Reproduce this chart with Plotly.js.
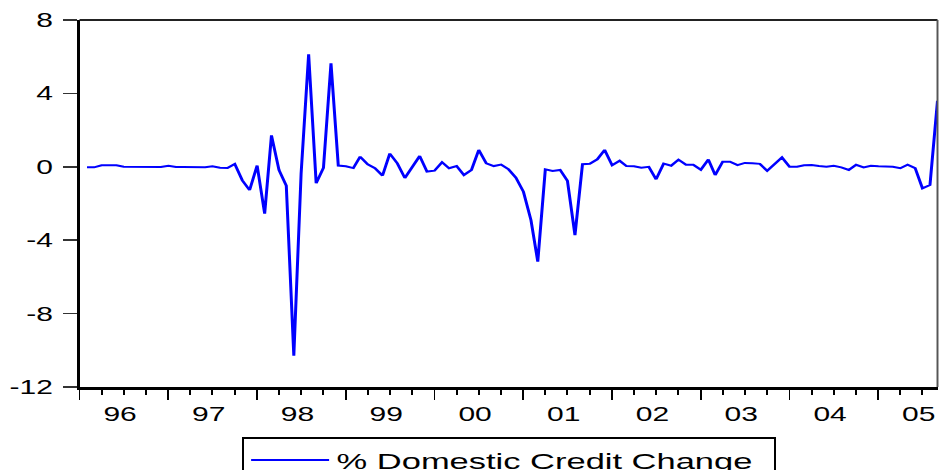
<!DOCTYPE html>
<html>
<head>
<meta charset="utf-8">
<script src="https://cdn.plot.ly/plotly-3.0.1.min.js"></script>
<style>
  html, body { margin: 0; padding: 0; background: #fff; overflow: hidden; }
  /* chart is laid out narrow and widened, giving the broad lettering of the original print */
  #chart { width: 626px; height: 470px; transform: scaleX(1.5); transform-origin: 0 0; }
</style>
</head>
<body>
<div id="chart"></div>
<script>
// Monthly % change in domestic credit, 1996M2 .. 2005M9
const startYear = 1996;
const startMonth = 2;
const creditChange = [
  -0.03, -0.03, 0.08, 0.08, 0.08, 0.00, -0.01, -0.01, -0.01, -0.01, -0.01,          // 1996 Feb-Dec
  0.06, -0.01, -0.01, -0.01, -0.01, -0.02, 0.03, -0.05, -0.07, 0.15, -0.74, -1.27,  // 1997
  0.07, -2.55, 1.71, -0.18, -1.03, -10.29, -0.36, 6.13, -0.90, -0.05, 5.64, 0.07,   // 1998
  0.03, -0.07, 0.55, 0.13, -0.07, -0.48, 0.72, 0.19, -0.61, 0.00, 0.59, -0.26,      // 1999
  -0.21, 0.25, -0.08, 0.04, -0.45, -0.17, 0.92, 0.19, 0.04, 0.12, -0.14, -0.59,     // 2000
  -1.36, -2.90, -5.17, -0.14, -0.23, -0.17, -0.76, -3.72, 0.14, 0.17, 0.41, 0.92,   // 2001
  0.08, 0.33, 0.04, 0.03, -0.05, 0.00, -0.68, 0.17, 0.06, 0.39, 0.11, 0.11,         // 2002
  -0.16, 0.40, -0.45, 0.28, 0.28, 0.09, 0.21, 0.19, 0.16, -0.22, 0.13, 0.51,        // 2003
  0.00, 0.00, 0.08, 0.10, 0.04, 0.00, 0.06, -0.03, -0.17, 0.11, -0.03, 0.06,        // 2004
  0.03, 0.03, 0.00, -0.08, 0.11, -0.07, -1.17, -0.99, 3.60                          // 2005 Jan-Sep
];
const seriesName = '% Domestic Credit Change';
const yTicks = [-12, -8, -4, 0, 4, 8];
const yearLabels = ['96', '97', '98', '99', '00', '01', '02', '03', '04', '05'];

// month stamps for each observation
const months = creditChange.map((_, i) => {
  const m = startMonth - 1 + i;
  const y = startYear + Math.floor(m / 12);
  const mm = String((m % 12) + 1).padStart(2, '0');
  return y + '-' + mm + '-01';
});
// year labels sit in the middle of each year, ticks mark the year boundaries
const yearLabelPos = yearLabels.map((_, i) => (startYear + i) + '-06-16');

const font = 'Liberation Sans, Arial, Helvetica, sans-serif';
const xRange = ['1996-01-01', '2005-09-01'];

const trace = {
  x: months,
  y: creditChange,
  type: 'scatter',
  mode: 'lines',
  name: seriesName,
  line: { color: '#0000ff', width: 2 },
  showlegend: true
};

const layout = {
  width: 626,
  height: 470,
  margin: { l: 53.3, r: 1.3, t: 20, b: 83, autoexpand: false },
  paper_bgcolor: '#ffffff',
  plot_bgcolor: '#ffffff',
  font: { family: font, color: '#000', size: 20 },
  showlegend: true,
  xaxis: {
    type: 'date',
    range: xRange,
    tick0: '1996-01-01',
    dtick: 'M12',
    ticks: 'outside',
    ticklen: 10,
    tickwidth: 1.3,
    tickcolor: '#000',
    minor: { dtick: 'M3', ticks: 'outside', ticklen: 5, tickwidth: 1.3, tickcolor: '#000', showgrid: false },
    showticklabels: false,
    showline: true,
    linecolor: '#000',
    linewidth: 2.5,
    showgrid: false,
    zeroline: false
  },
  xaxis2: {
    type: 'date',
    overlaying: 'x',
    matches: 'x',
    anchor: 'y',
    side: 'bottom',
    range: xRange,
    tickmode: 'array',
    tickvals: yearLabelPos,
    ticktext: yearLabels,
    ticks: 'outside',
    ticklen: 9,
    tickcolor: 'rgba(0,0,0,0)',
    showline: false,
    showgrid: false,
    zeroline: false,
    tickfont: { family: font, size: 20, color: '#000' }
  },
  yaxis: {
    range: [-12, 8],
    tickvals: yTicks,
    ticktext: yTicks.map(String),
    ticks: 'outside',
    ticklen: 8.7,
    tickwidth: 1.5,
    tickcolor: '#333',
    ticklabelstandoff: 3,
    showline: true,
    linecolor: '#000',
    linewidth: 2,
    showgrid: false,
    zeroline: false,
    tickfont: { family: font, size: 20, color: '#000' }
  },
  legend: {
    orientation: 'h',
    x: 0.189,
    xanchor: 'left',
    y: -0.137,
    yanchor: 'top',
    itemwidth: 52,
    entrywidth: 286,
    entrywidthmode: 'pixels',
    bgcolor: '#ffffff',
    bordercolor: '#000',
    borderwidth: 1.3,
    font: { family: font, size: 23, color: '#000' }
  },
  shapes: [
    { type: 'line', xref: 'paper', yref: 'paper', x0: 0, x1: 1, y0: 1, y1: 1,
      line: { color: '#222', width: 2 } },
    { type: 'line', xref: 'paper', yref: 'paper', x0: 1, x1: 1, y0: 0, y1: 1,
      line: { color: '#555', width: 1.3 } }
  ]
};

// an invisible companion trace ties the label axis to the same scale
const labelAxisTrace = {
  x: xRange, y: [null, null], xaxis: 'x2', yaxis: 'y',
  type: 'scatter', mode: 'lines', showlegend: false, hoverinfo: 'skip'
};

Plotly.newPlot('chart', [trace, labelAxisTrace], layout, { staticPlot: true, displayModeBar: false });
</script>
</body>
</html>
